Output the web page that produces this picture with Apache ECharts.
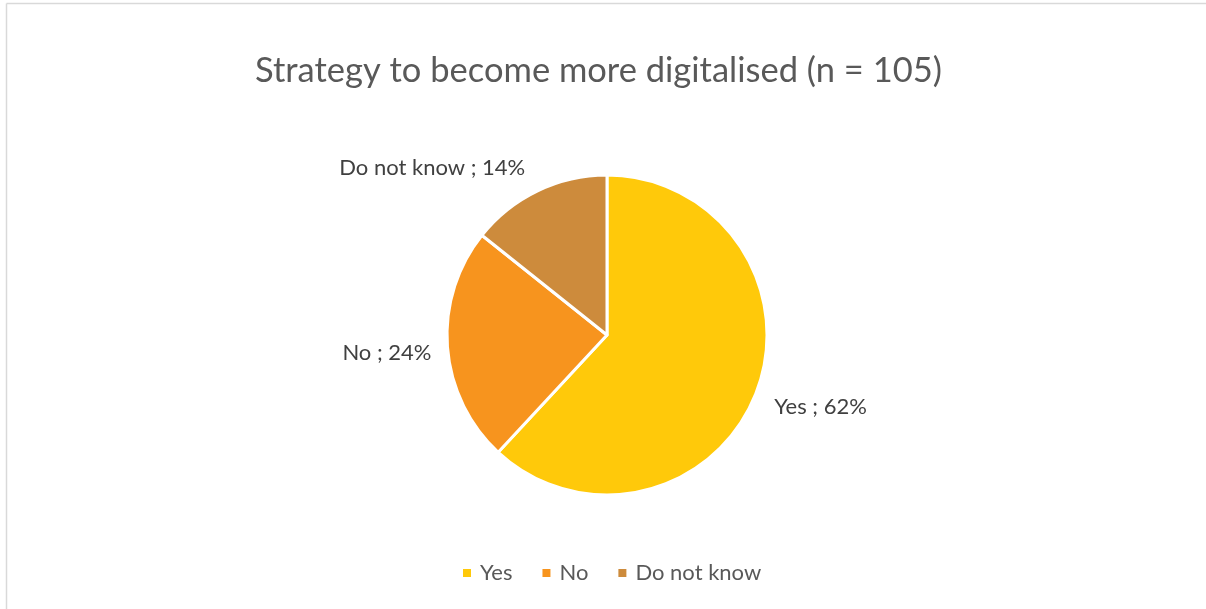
<!DOCTYPE html>
<html>
<head>
<meta charset="utf-8">
<script src="https://cdn.jsdelivr.net/npm/echarts@6/dist/echarts.min.js"></script>
<style>html,body{margin:0;padding:0;background:#fff}#chart{width:1206px;height:609px}</style>
</head>
<body>
<div id="chart"></div>
<script>
const titleText = 'Strategy to become more digitalised (n = 105)';
const categories = ['Yes', 'No', 'Do not know'];
const counts = [65, 25, 15];
const colors = ['#FFC90A', '#F7941E', '#CD8B3C'];

// small style nudges of the outside labels (pixels), Excel-like placement
const labelNudge = [[-2, 10], [5, 5], [3, -14]];

const chart = echarts.init(document.getElementById('chart'));
const FONT = 'Lato';
chart.setOption({
  backgroundColor: '#ffffff',
  title: {
    text: titleText,
    left: 250,
    top: 48,
    textStyle: { fontFamily: FONT, fontSize: 34.5, fontWeight: 'normal', color: '#595959' }
  },
  legend: {
    bottom: 20,
    left: 456,
    icon: 'rect',
    itemWidth: 10,
    itemHeight: 10,
    itemGap: 28,
    textStyle: { fontFamily: FONT, fontSize: 22, color: '#595959', padding: [0, 0, 0, 3] },
    data: categories
  },
  graphic: [
    { type: 'line', shape: { x1: 6.5, y1: 3.5, x2: 1206, y2: 3.5 }, style: { stroke: '#d9d9d9', lineWidth: 1.5 } },
    { type: 'line', shape: { x1: 6.5, y1: 3.5, x2: 6.5, y2: 609 }, style: { stroke: '#d9d9d9', lineWidth: 1.5 } }
  ],
  series: [{
    type: 'pie',
    center: [607, 335],
    radius: 160,
    startAngle: 90,
    clockwise: true,
    animation: false,
    itemStyle: { borderColor: '#ffffff', borderWidth: 3 },
    label: {
      show: true,
      position: 'outside',
      formatter: p => p.name + ' ; ' + Math.round(p.percent) + '%',
      fontFamily: FONT,
      fontSize: 22,
      color: '#404040'
    },
    labelLine: { show: false, length: 10, length2: 6 },
    labelLayout: p => ({ dx: labelNudge[p.dataIndex][0], dy: labelNudge[p.dataIndex][1] }),
    data: categories.map((c, i) => ({ name: c, value: counts[i], itemStyle: { color: colors[i] } }))
  }]
});
</script>
</body>
</html>
